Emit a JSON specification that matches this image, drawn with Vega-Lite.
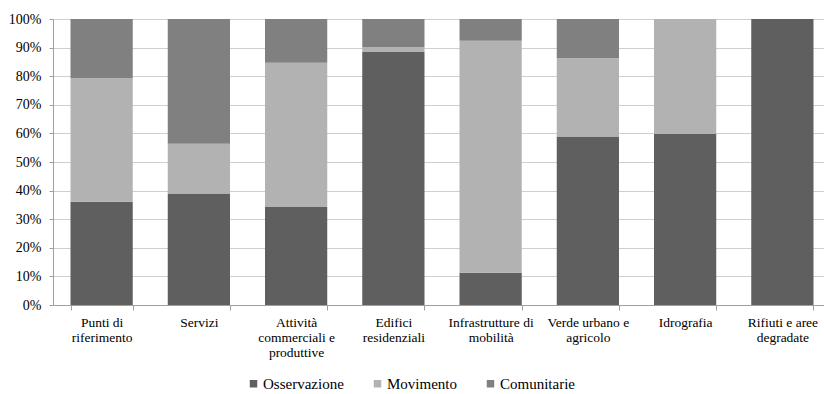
{
  "$schema": "https://vega.github.io/schema/vega-lite/v6.json",
  "autosize": {"type": "none"},
  "padding": {"left": 53, "top": 19, "right": 0, "bottom": 89},
  "width": 778,
  "height": 286,
  "background": "white",
  "config": {
    "font": "Liberation Serif",
    "view": {"stroke": null},
    "style": {"guide-label": {"font": "Liberation Serif"}}
  },
  "data": {
    "values": [
      {"categoria": "Punti di riferimento", "tipo": "Osservazione", "ord": 1, "valore": 36.1},
      {"categoria": "Punti di riferimento", "tipo": "Movimento", "ord": 2, "valore": 43.2},
      {"categoria": "Punti di riferimento", "tipo": "Comunitarie", "ord": 3, "valore": 20.7},
      {"categoria": "Servizi", "tipo": "Osservazione", "ord": 1, "valore": 39.0},
      {"categoria": "Servizi", "tipo": "Movimento", "ord": 2, "valore": 17.4},
      {"categoria": "Servizi", "tipo": "Comunitarie", "ord": 3, "valore": 43.6},
      {"categoria": "Attività commerciali e produttive", "tipo": "Osservazione", "ord": 1, "valore": 34.3},
      {"categoria": "Attività commerciali e produttive", "tipo": "Movimento", "ord": 2, "valore": 50.4},
      {"categoria": "Attività commerciali e produttive", "tipo": "Comunitarie", "ord": 3, "valore": 15.3},
      {"categoria": "Edifici residenziali", "tipo": "Osservazione", "ord": 1, "valore": 88.5},
      {"categoria": "Edifici residenziali", "tipo": "Movimento", "ord": 2, "valore": 1.6},
      {"categoria": "Edifici residenziali", "tipo": "Comunitarie", "ord": 3, "valore": 9.9},
      {"categoria": "Infrastrutture di mobilità", "tipo": "Osservazione", "ord": 1, "valore": 11.3},
      {"categoria": "Infrastrutture di mobilità", "tipo": "Movimento", "ord": 2, "valore": 81.1},
      {"categoria": "Infrastrutture di mobilità", "tipo": "Comunitarie", "ord": 3, "valore": 7.6},
      {"categoria": "Verde urbano e agricolo", "tipo": "Osservazione", "ord": 1, "valore": 58.9},
      {"categoria": "Verde urbano e agricolo", "tipo": "Movimento", "ord": 2, "valore": 27.4},
      {"categoria": "Verde urbano e agricolo", "tipo": "Comunitarie", "ord": 3, "valore": 13.7},
      {"categoria": "Idrografia", "tipo": "Osservazione", "ord": 1, "valore": 59.9},
      {"categoria": "Idrografia", "tipo": "Movimento", "ord": 2, "valore": 40.1},
      {"categoria": "Idrografia", "tipo": "Comunitarie", "ord": 3, "valore": 0},
      {"categoria": "Rifiuti e aree degradate", "tipo": "Osservazione", "ord": 1, "valore": 100},
      {"categoria": "Rifiuti e aree degradate", "tipo": "Movimento", "ord": 2, "valore": 0},
      {"categoria": "Rifiuti e aree degradate", "tipo": "Comunitarie", "ord": 3, "valore": 0}
    ]
  },
  "mark": {"type": "bar"},
  "encoding": {
    "x": {
      "field": "categoria",
      "type": "nominal",
      "sort": null,
      "title": null,
      "scale": {"paddingInner": 0.36, "paddingOuter": 0.18},
      "axis": {
        "labelAngle": 0,
        "tickBand": "extent",
        "tickSize": 5,
        "tickColor": "#a0a0a0",
        "domainColor": "#a0a0a0",
        "labelPadding": 5,
        "labelLineHeight": 15,
        "labelFont": "Liberation Serif",
        "labelFontSize": 13.5,
        "labelColor": "#000000",
        "labelBaseline": "top",
        "labelExpr": "datum.label == 'Punti di riferimento' ? ['Punti di', 'riferimento'] : datum.label == 'Attività commerciali e produttive' ? ['Attività', 'commerciali e', 'produttive'] : datum.label == 'Edifici residenziali' ? ['Edifici', 'residenziali'] : datum.label == 'Infrastrutture di mobilità' ? ['Infrastrutture di', 'mobilità'] : datum.label == 'Verde urbano e agricolo' ? ['Verde urbano e', 'agricolo'] : datum.label == 'Rifiuti e aree degradate' ? ['Rifiuti e aree', 'degradate'] : datum.label"
      }
    },
    "y": {
      "field": "valore",
      "type": "quantitative",
      "stack": "normalize",
      "title": null,
      "scale": {"domain": [0, 1], "nice": false},
      "axis": {
        "values": [0, 0.1, 0.2, 0.3, 0.4, 0.5, 0.6, 0.7, 0.8, 0.9, 1],
        "format": ".0%",
        "grid": true,
        "gridColor": "#cfcfcf",
        "gridWidth": 1,
        "domainColor": "#a0a0a0",
        "tickColor": "#a0a0a0",
        "tickSize": 4,
        "labelPadding": 8,
        "labelFont": "Liberation Serif",
        "labelFontSize": 14,
        "labelColor": "#000000"
      }
    },
    "color": {
      "field": "tipo",
      "type": "nominal",
      "sort": ["Osservazione", "Movimento", "Comunitarie"],
      "scale": {"domain": ["Osservazione", "Movimento", "Comunitarie"], "range": ["#5f5f5f", "#b2b2b2", "#808080"]},
      "legend": {
        "title": null,
        "orient": "none",
        "direction": "horizontal",
        "legendX": 193,
        "legendY": 357,
        "symbolType": "square",
        "symbolSize": 56,
        "symbolStrokeWidth": 0,
        "labelOffset": 2,
        "labelFont": "Liberation Serif",
        "labelFontSize": 15,
        "labelColor": "#000000",
        "labelLimit": 0,
        "columnPadding": 26
      }
    },
    "order": {"field": "ord", "type": "quantitative"}
  }
}
